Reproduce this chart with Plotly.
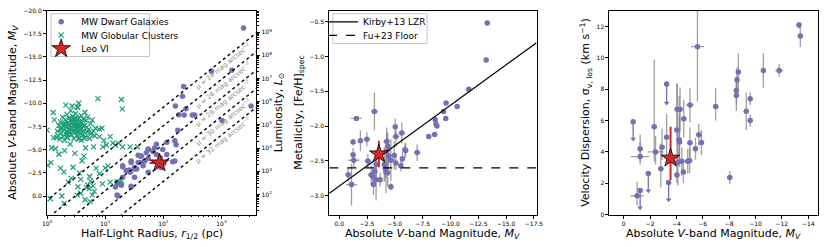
import numpy as np
import plotly.graph_objects as go

# ---------------- Panel 1 data: size-luminosity ----------------
dwarf_r = [2400, 676, 1510, 224, 214, 162, 245, 186, 229, 316, 347, 1023, 3236, 178,
           115, 76, 158, 55, 51, 66, 98, 76, 37, 42, 115, 158, 89, 91, 102, 55, 48, 37,
           28, 32, 20, 23, 26, 20, 32, 17, 19, 28, 16.6, 15, 55, 20, 28, 40, 55, 32, 45,
           16, 19, 28, 16, 27, 35, 40, 71, 166, 145]
dwarf_MV = [-18.1, -13.45, -13.55, -11.8, -10.75, -9.7, -9.4, -8.76, -8.73, -8.73, -8.73,
            -8.14, -9.7, -7.09, -5.8, -5.59, -5.97, -5.07, -4.65, -4.82, -5.0, -4.47, -4.4,
            -4.29, -4.47, -3.77, -4.12, -3.08, -3.5, -4.05, -3.77, -3.6, -3.77, -3.08,
            -3.14, -2.72, -2.8, -2.03, -2.03, -1.33, -1.26, -1.05, 0.0, -0.98, -2.55,
            -3.25, -3.6, -4.3, -5.0, -2.9, -3.25, -1.5, -1.15, -0.98, -0.1, -2.55, -2.9,
            -3.6, -5.17, -5.52, -3.7]
gc_r = [1.45, 1.5, 1.55, 1.6, 1.65, 1.7, 1.75, 1.8, 1.85, 1.9, 1.95, 2.0, 2.05, 2.1, 2.15,
        2.2, 2.25, 2.3, 2.35, 2.4, 2.45, 2.5, 2.55, 2.6, 2.65, 2.7, 2.75, 2.8, 2.85, 2.9,
        2.95, 3.0, 3.05, 3.1, 3.15, 3.2, 3.25, 3.3, 3.35, 3.4, 3.45, 3.5, 3.55, 3.6, 3.65,
        3.7, 3.75, 3.8, 3.85, 3.9, 4.0, 4.1, 4.2, 4.3, 4.4, 4.5, 4.6, 4.7, 4.8, 4.9, 5.0,
        5.2, 5.4, 5.6, 5.8, 6.0, 6.3, 6.6, 2.2, 2.6, 2.9, 3.3, 3.6, 2.4, 3.0, 2.7, 3.4,
        2.1, 3.8, 3.2, 2.5, 2.8, 1.9, 4.2, 3.5, 2.3, 3.9, 4.4, 1.7, 2.0,
        1.0, 1.03, 1.17, 1.28, 1.33, 1.14, 1.2, 1.4, 1.3, 1.97, 1.8, 2.1, 2.2, 3.5, 3.3,
        2.7, 1.95, 2.6, 2.8, 3.3, 3.4, 3.8, 3.6, 4.3, 4.6, 5.0, 5.3, 5.6, 6.0, 6.2, 6.5,
        4.8, 5.4, 7.0, 7.5, 6.3, 5.7, 6.8, 7.9, 8.0, 8.8, 9.1, 9.5, 10.0, 10.5, 11.2,
        12.2, 12.2, 13.5, 15.0, 17.0, 19.0, 19.7, 19.0, 20.0, 26.8, 36.0, 4.0, 3.0, 2.5,
        1.6, 1.7, 2.3, 3.8, 4.5, 5.5, 9.0, 8.0, 16.0, 2.0]
gc_MV = [-6.3, -7.0, -6.5, -7.6, -6.1, -8.0, -6.8, -7.3, -8.5, -6.4, -7.8, -7.1, -8.2,
         -6.7, -7.5, -8.8, -6.3, -7.9, -7.2, -8.4, -6.9, -7.6, -9.2, -6.6, -8.0, -7.3,
         -8.6, -7.0, -7.7, -6.2, -8.3, -7.5, -6.8, -8.9, -7.2, -7.9, -6.5, -8.1, -7.4,
         -9.5, -6.9, -7.7, -8.4, -6.3, -7.1, -8.0, -7.6, -6.7, -8.7, -7.3, -7.9, -6.6,
         -8.3, -7.0, -7.6, -9.0, -6.4, -8.1, -7.4, -6.9, -8.5, -7.2, -6.2, -7.8, -6.8,
         -8.2, -7.0, -6.5, -7.0, -7.4, -7.1, -7.6, -7.4, -7.7, -8.0, -7.9, -7.0, -7.8,
         -7.2, -8.4, -8.1, -8.3, -7.6, -7.5, -6.1, -6.6, -6.0, -6.2, -7.2, -6.0,
         -7.1, -3.3, -3.6, -9.0, -8.2, 0.3, -5.2, -5.1, -6.3, 0.8, 0.0, -9.8, -6.3,
         -10.0, -9.6, -9.7, -2.6, -1.9, -3.1, -0.1, -1.0, -0.3, -2.5, -4.3, -5.2, -1.2,
         -0.8, -1.6, -0.1, -1.1, -0.5, -0.9, -2.1, -3.0, -10.5, -5.3, -6.7, -7.3, -7.2,
         -6.4, -7.3, -5.3, -6.0, -3.0, -5.5, -3.25, -6.4, -1.5, -5.7, -5.5, -5.7, -10.4,
         -9.4, -1.6, -5.3, -5.3, -5.3, -3.8, -4.6, -5.6, -4.5, -3.0, -1.5, -1.8, 0.4,
         0.6, -1.3, -2.4, -1.5, -4.9]
leo6_r = [86]
leo6_r_lo = [28]
leo6_r_hi = [24]
leo6_MV = [-3.56]
mu_levels = [24, 26, 28, 30, 32]

# ---------------- Panel 2 data: metallicity ----------------
feh_MV = [-13.3, -13.2, -11.64, -10.6, -9.6, -9.37, -9.57, -8.63, -8.69, -8.78, -8.57,
          -8.04, -7.0, -5.9, -5.62, -5.03, -5.09, -5.97, -5.67, -5.53, -5.09, -4.94,
          -4.43, -4.64, -4.26, -4.35, -4.26, -4.05, -4.14, -4.35, -4.64, -3.67, -3.31,
          -3.08, -2.87, -3.16, -1.54, -2.48, -1.9, -1.24, -1.24, -1.3, -2.57, -0.8,
          -1.1, -3.31, -3.0, -3.2, -4.2]
feh = [-0.52, -1.05, -1.47, -1.72, -1.67, -1.79, -1.89, -1.91, -1.97, -2.0, -2.12, -2.15,
       -2.38, -2.34, -2.1, -2.01, -2.15, -2.35, -2.47, -2.57, -2.53, -2.42, -2.43, -2.49,
       -2.22, -2.29, -2.36, -2.55, -2.61, -2.67, -2.87, -2.77, -2.77, -2.84, -2.70,
       -1.79, -1.89, -2.19, -2.21, -2.23, -2.41, -2.49, -2.50, -2.70, -2.84, -2.55,
       -2.72, -2.65, -2.66]
feh_MV_err = [0.1, 0.1, 0.1, 0.1, 0.05, 0.05, 0.05, 0.05, 0.05, 0.05, 0.05, 0.05, 0.3,
              0.2, 0.3, 0.1, 0.3, 0.2, 0.2, 0.2, 0.2, 0.2, 0.3, 0.3, 0.3, 0.2, 0.3, 0.2,
              0.2, 0.2, 0.1, 0.2, 0.2, 0.2, 0.3, 0.3, 0.5, 0.3, 0.2, 0.2, 0.2, 0.5, 0.3,
              0.2, 0.5, 0.2, 0.2, 0.2, 0.1]
feh_err = [0.02, 0.02, 0.02, 0.02, 0.02, 0.02, 0.02, 0.02, 0.02, 0.02, 0.02, 0.02, 0.12,
           0.1, 0.15, 0.12, 0.15, 0.1, 0.1, 0.08, 0.1, 0.2, 0.25, 0.3, 0.2, 0.2, 0.25,
           0.25, 0.15, 0.2, 0.05, 0.1, 0.3, 0.15, 0.15, 0.27, 0.03, 0.1, 0.15, 0.05, 0.1,
           0.1, 0.1, 0.1, 0.3, 0.2, 0.1, 0.15, 0.3]
leo6_feh = [-2.40]
leo6_feh_err = [0.19]
kirby_norm = -1.68
kirby_slope = 0.29
fu_floor = -2.6

# ---------------- Panel 3 data: velocity dispersion ----------------
sig_MV = [-13.3, -13.4, -11.8, -10.6, -8.7, -8.6, -8.55, -8.55, -9.6, -9.3, -9.6, -8.05,
          -6.98, -5.6, -5.9, -5.7, -5.45, -5.03, -5.03, -4.86, -4.56, -4.53, -4.41, -4.28,
          -4.06, -4.24, -4.04, -4.21, -4.11, -4.04, -3.26, -2.91, -2.82, -2.32, -2.42,
          -1.25, -1.25, -1.02, -5.0]
sig = [12.1, 11.4, 9.2, 9.2, 9.1, 8.6, 7.92, 7.61, 7.4, 6.6, 6.0, 2.37, 6.9, 10.72, 4.6,
       5.1, 4.2, 7.0, 4.58, 3.4, 6.12, 2.72, 3.4, 6.72, 6.72, 4.64, 5.4, 4.78, 3.34, 2.52,
       4.93, 4.29, 2.93, 5.6, 4.0, 4.2, 3.7, 1.2, 3.44]
sig_MV_err = [0.1, 0.15, 0.3, 0.1, 0.1, 0.1, 0.1, 0.1, 0.1, 0.1, 0.1, 0.05, 0.2, 0.5,
              0.2, 0.2, 0.2, 0.3, 0.2, 0.2, 0.2, 0.1, 0.2, 0.2, 0.2, 0.2, 0.2, 0.2, 0.2,
              0.2, 0.2, 0.2, 0.2, 0.2, 0.6, 0.15, 0.7, 0.5, 0.2]
sig_err_hi = [0.2, 0.7, 0.4, 1.1, 1.2, 0.8, 0.9, 1.0, 0.4, 1.2, 0.4, 0.4, 1.2, 2.5, 0.8,
              0.7, 0.7, 1.1, 1.0, 0.8, 1.2, 0.7, 0.9, 1.4, 1.6, 1.6, 3.0, 2.8, 2.0, 1.0,
              1.5, 1.2, 1.6, 4.3, 1.0, 0.9, 0.9, 0.9, 0.8]
sig_err_lo = [0.2, 0.7, 0.4, 1.1, 1.2, 0.8, 0.9, 1.0, 0.4, 1.2, 0.4, 0.4, 0.9, 3.5, 0.8,
              0.7, 0.7, 1.1, 1.0, 0.8, 1.2, 0.7, 0.9, 1.4, 1.6, 1.6, 2.0, 1.4, 1.5, 0.5,
              1.5, 0.8, 1.2, 2.2, 0.8, 0.8, 0.5, 0.6, 0.8]
ul_MV = [-0.72, -3.26, -3.41, -1.87, -1.25]
ul_sig = [5.92, 8.33, 2.04, 2.62, 1.53]
ul_len = [1.1, 1.2, 1.1, 1.1, 1.1]
leo6_sig = [3.6]
leo6_sig_hi = [2.0]
leo6_sig_lo = [1.4]

# ---------------- styling ----------------
PURPLE = "#7570b3"
GREEN = "#1b9e77"
RED = "#d62728"
EGRAY = "rgba(128,128,128,0.75)"
FONT = "DejaVu Sans"
W, H = 830, 247

d1 = [0.0514, 0.3072]
d2 = [0.3964, 0.6498]
d3 = [0.7389, 0.9940]
dy = [0.1227, 0.9729]

x1_range = [0.0, 3.6]          # log10 r
y1_range = [2.0, -20.0]
x2_range = [0.9, -17.73]
y2_range = [-3.27, -0.34]
x3_range = [1.08, -14.75]
y3_range = [0.0, 13.03]
MSUN = 4.83

fig = go.Figure()

# Panel 1
fig.add_trace(go.Scatter(x=dwarf_r, y=dwarf_MV, mode="markers", name="MW Dwarf Galaxies",
                         marker=dict(color=PURPLE, size=5.5), xaxis="x", yaxis="y",
                         legend="legend"))
fig.add_trace(go.Scatter(x=gc_r, y=gc_MV, mode="markers", name="MW Globular Clusters",
                         marker=dict(symbol="x-thin", size=5, color=GREEN,
                                     line=dict(color=GREEN, width=1.2)),
                         xaxis="x", yaxis="y", legend="legend3"))
r_line = np.array([10 ** (x1_range[0] - 0.2), 10 ** (x1_range[1] + 0.2)])
for mu in mu_levels:
    m_line = mu - 21.572 - 2.5 * np.log10(2 * np.pi * r_line ** 2)
    fig.add_trace(go.Scatter(x=r_line, y=m_line, mode="lines", showlegend=False,
                             line=dict(color="black", width=1.4, dash="dot"),
                             xaxis="x", yaxis="y", hoverinfo="skip"))
fig.add_trace(go.Scatter(x=leo6_r, y=leo6_MV, mode="markers", name="Leo VI",
                         error_x=dict(type="data", symmetric=False, array=leo6_r_hi,
                                      arrayminus=leo6_r_lo, color=RED, thickness=2, width=0),
                         marker=dict(symbol="star", size=14, color=RED,
                                     line=dict(color="black", width=0.8)),
                         xaxis="x", yaxis="y", legend="legend4"))
# invisible trace for luminosity axis
fig.add_trace(go.Scatter(x=[10 ** 0.5], y=[10 ** 5], mode="markers", showlegend=False,
                         marker=dict(opacity=0), xaxis="x", yaxis="y4", hoverinfo="skip"))

# surface-brightness labels
pw1 = (d1[1] - d1[0]) * W
ph1 = (dy[1] - dy[0]) * H
px_dec = pw1 / (x1_range[1] - x1_range[0])
px_mag = ph1 / abs(y1_range[0] - y1_range[1])
ang = np.degrees(np.arctan(5 * px_mag / px_dec))
lab_logr = 2.98
for mu in mu_levels:
    m_lab = mu - 21.572 - 2.5 * np.log10(2 * np.pi * (10 ** lab_logr) ** 2)
    fig.add_annotation(x=lab_logr, y=m_lab, xref="x", yref="y",
                       text=f"μ = {mu} mag arcsec<sup>−2</sup>", showarrow=False,
                       textangle=-ang, font=dict(size=6.5, color="#8a8a8a", family=FONT),
                       xshift=4 * np.sin(np.radians(ang)), yshift=-6 * np.cos(np.radians(ang)))

# Panel 2
fig.add_trace(go.Scatter(x=feh_MV, y=feh, mode="markers", showlegend=False,
                         error_x=dict(type="data", array=feh_MV_err, color=EGRAY,
                                      thickness=1.3, width=0),
                         error_y=dict(type="data", array=feh_err, color=EGRAY,
                                      thickness=1.3, width=0),
                         marker=dict(color=PURPLE, size=5.5), xaxis="x2", yaxis="y2"))
m_k = np.array([x2_range[0], x2_range[1]])
feh_k = kirby_norm + kirby_slope * ((MSUN - m_k) / 2.5 - 6)
fig.add_trace(go.Scatter(x=m_k, y=feh_k, mode="lines", name="Kirby+13 LZR",
                         line=dict(color="black", width=1.3), xaxis="x2", yaxis="y2",
                         legend="legend2"))
fig.add_trace(go.Scatter(x=m_k, y=[fu_floor, fu_floor], mode="lines", name="Fu+23 Floor",
                         line=dict(color="black", width=1.3, dash="dash"),
                         xaxis="x2", yaxis="y2", legend="legend5"))
fig.add_trace(go.Scatter(x=leo6_MV, y=leo6_feh, mode="markers", showlegend=False,
                         error_y=dict(type="data", array=leo6_feh_err, color=RED,
                                      thickness=2, width=0),
                         marker=dict(symbol="star", size=14, color=RED,
                                     line=dict(color="black", width=0.8)),
                         xaxis="x2", yaxis="y2"))

# Panel 3
fig.add_trace(go.Scatter(x=sig_MV, y=sig, mode="markers", showlegend=False,
                         error_x=dict(type="data", array=sig_MV_err, color=EGRAY,
                                      thickness=1.3, width=0),
                         error_y=dict(type="data", symmetric=False, array=sig_err_hi,
                                      arrayminus=sig_err_lo, color=EGRAY,
                                      thickness=1.3, width=0),
                         marker=dict(color=PURPLE, size=5.5), xaxis="x3", yaxis="y3"))
fig.add_trace(go.Scatter(x=ul_MV, y=ul_sig, mode="markers", showlegend=False,
                         error_y=dict(type="data", symmetric=False, array=[0] * len(ul_len),
                                      arrayminus=ul_len, color=PURPLE, thickness=1.3, width=0),
                         marker=dict(color=PURPLE, size=5.5), xaxis="x3", yaxis="y3"))
fig.add_trace(go.Scatter(x=ul_MV, y=list(np.array(ul_sig) - np.array(ul_len)),
                         mode="markers", showlegend=False,
                         marker=dict(symbol="triangle-down", color=PURPLE, size=5),
                         xaxis="x3", yaxis="y3", hoverinfo="skip"))
fig.add_trace(go.Scatter(x=leo6_MV, y=leo6_sig, mode="markers", showlegend=False,
                         error_y=dict(type="data", symmetric=False, array=leo6_sig_hi,
                                      arrayminus=leo6_sig_lo, color=RED, thickness=2, width=0),
                         marker=dict(symbol="star", size=14, color=RED,
                                     line=dict(color="black", width=0.8)),
                         xaxis="x3", yaxis="y3"))

tickfont = dict(size=6, color="black", family=FONT)
titlefont = dict(size=11, color="black", family=FONT)
common = dict(showgrid=False, zeroline=False, showline=True, linecolor="black",
              linewidth=1, ticks="outside", ticklen=3, tickwidth=0.8, tickcolor="black",
              tickfont=tickfont)

decades = list(range(0, 4))
minor_r = [m * 10 ** d for d in range(0, 4) for m in range(2, 10)]
lum_dec = list(range(2, 10))
minor_L = [m * 10 ** d for d in range(1, 10) for m in range(2, 10)]


def px2paper_x(px):
    return px / W


def px2paper_y(py):
    return 1 - py / H


def one_legend(x_px, y_px):
    return dict(x=px2paper_x(x_px), y=px2paper_y(y_px), xanchor="left", yanchor="middle",
                bgcolor="rgba(0,0,0,0)", borderwidth=0,
                font=dict(size=9, family=FONT, color="black"))


# legend frames (matplotlib-like boxes)
fig.add_shape(type="rect", xref="paper", yref="paper",
              x0=px2paper_x(46.7), x1=px2paper_x(146.7), y0=px2paper_y(54), y1=px2paper_y(10),
              line=dict(color="#c4c4c4", width=1), fillcolor="rgba(255,255,255,0.8)",
              layer="above")
fig.add_shape(type="rect", xref="paper", yref="paper",
              x0=px2paper_x(332.7), x1=px2paper_x(428.3), y0=px2paper_y(40.7),
              y1=px2paper_y(10), line=dict(color="#c4c4c4", width=1),
              fillcolor="rgba(255,255,255,0.8)", layer="above")

# x-axis titles placed like the reference
xtitle_y = px2paper_y(237)
for dom, txt in [(d1, "Half-Light Radius, <i>r</i><sub>1/2</sub> (pc)"),
                 (d2, "Absolute <i>V</i>-band Magnitude, <i>M<sub>V</sub></i>"),
                 (d3, "Absolute <i>V</i>-band Magnitude, <i>M<sub>V</sub></i>")]:
    fig.add_annotation(x=(dom[0] + dom[1]) / 2, y=xtitle_y, xref="paper", yref="paper",
                       text=txt, showarrow=False, xanchor="center", yanchor="middle",
                       font=titlefont)

fig.update_layout(
    width=W, height=H, margin=dict(l=0, r=0, t=0, b=0),
    paper_bgcolor="white", plot_bgcolor="rgba(0,0,0,0)",
    font=dict(family=FONT, color="black"),
    xaxis=dict(domain=d1, type="log", range=x1_range, anchor="y", mirror=True,
               tickvals=[10 ** d for d in decades],
               ticktext=[f"10<sup>{d}</sup>" for d in decades],
               minor=dict(tickvals=minor_r, ticks="outside", ticklen=1.8, tickcolor="black"),
               **common),
    yaxis=dict(domain=dy, range=y1_range, anchor="x", mirror=True, dtick=2.5, tick0=0,
               tickformat=".1f",
               title=dict(text="Absolute <i>V</i>-band Magnitude, <i>M<sub>V</sub></i>",
                          font=titlefont, standoff=4),
               **common),
    yaxis4=dict(overlaying="y", side="right", anchor="x", type="log",
                range=[(MSUN - y1_range[0]) / 2.5, (MSUN - y1_range[1]) / 2.5],
                tickvals=[10 ** d for d in lum_dec],
                ticktext=[f"10<sup>{d}</sup>" for d in lum_dec],
                minor=dict(tickvals=minor_L, ticks="outside", ticklen=1.8, tickcolor="black"),
                title=dict(text="Luminosity, <i>L</i><sub>⊙</sub>", font=titlefont, standoff=1),
                **common),
    xaxis2=dict(domain=d2, range=x2_range, anchor="y2", mirror=True, dtick=2.5, tick0=0,
                tickformat=".1f", **common),
    yaxis2=dict(domain=dy, range=y2_range, anchor="x2", mirror=True, dtick=0.5, tick0=0,
                tickformat=".1f",
                title=dict(text="Metallicity, [Fe/H]<sub>spec</sub>", font=titlefont,
                           standoff=4),
                **common),
    xaxis3=dict(domain=d3, range=x3_range, anchor="y3", mirror=True, dtick=2, tick0=0,
                **common),
    yaxis3=dict(domain=dy, range=y3_range, anchor="x3", mirror=True, dtick=2, tick0=0,
                title=dict(text="Velocity Dispersion, σ<sub>v, los</sub> (km s<sup>−1</sup>)",
                           font=titlefont, standoff=4),
                **common),
    legend=one_legend(36.7, 18.3),
    legend3=one_legend(36.7, 32.0),
    legend4=one_legend(36.7, 46.0),
    legend2=one_legend(322.7, 18.3),
    legend5=one_legend(322.7, 32.3),
)

fig.write_html("out.html", config={"displayModeBar": False},
               post_script="document.body.style.margin='0px';"
                           "document.documentElement.style.overflow='hidden';")
